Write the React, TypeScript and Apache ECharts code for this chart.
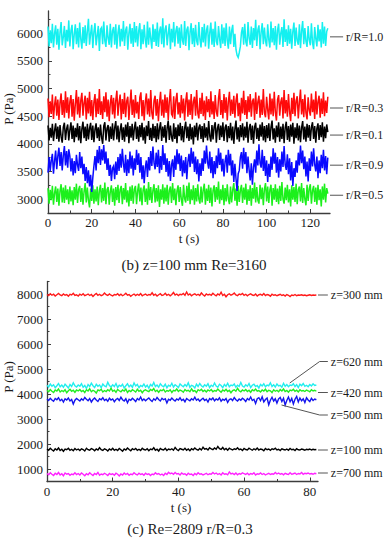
import React, { useEffect, useRef } from 'react';
import * as echarts from 'echarts';

const FONT = 'Liberation Serif, Times New Roman, serif';
const INK = '#1a1a1a';
const AXIS = '#3c3c3c';

// ---- Panel (b): z = 100 mm, Re = 3160, sampled every 0.5 s (0 ... 128 s) ----
const STEP_B = 0.5;

// r/R = 1.0
const pressureB10 = [
  6120, 5760, 6050, 5820, 6170, 5740, 5990, 6140, 5790, 6080, 5700, 6010, 6200, 5780, 5930, 6130, 5730, 6060, 5850, 6230,
  5760, 6040, 6150, 5710, 5980, 6160, 5800, 6090, 5740, 6190, 5890, 5720, 6110, 5820, 6140, 5770, 6030, 6260, 5790, 5990,
  6150, 5730, 6020, 6180, 5780, 5950, 6130, 5680, 6070, 6100, 5800, 6210, 5860, 5750, 6140, 5910, 5790, 6170, 5740, 6040,
  6110, 5790, 6160, 5720, 6000, 6150, 5760, 6080, 5850, 6220, 5770, 6050, 6120, 5700, 5990, 6170, 5810, 6090, 5750, 6200,
  5830, 6130, 5760, 6040, 6180, 5710, 6070, 5800, 6150, 5880, 5740, 6210, 5790, 6100, 5900, 5720, 6160, 5840, 6080, 5770,
  6190, 5750, 6030, 6120, 5800, 6270, 5740, 6060, 6140, 5780, 5990, 6170, 5710, 6080, 5830, 6200, 5760, 6040, 6130, 5810,
  6100, 5730, 6160, 5870, 5790, 6220, 5770, 6060, 6120, 5690, 6020, 6180, 5800, 6090, 5750, 6150, 5860, 5780, 6200, 5890,
  5740, 6110, 5830, 6170, 5760, 6050, 6140, 5720, 6010, 6190, 5790, 6080, 5750, 6210, 5850, 5780, 6130, 5900, 5730, 6160,
  5810, 6100, 5770, 6180, 5870, 5720, 6120, 5800, 6040, 6150, 5750, 5990, 5700, 5600, 5560, 5650, 5760, 6010, 6110, 5790,
  6170, 5840, 5760, 6200, 5910, 5790, 6120, 5730, 6090, 5870, 6240, 5770, 6060, 6140, 5710, 6020, 6180, 5800, 6100, 5860,
  5760, 6160, 5880, 5740, 6210, 5830, 6090, 5780, 6130, 5700, 6050, 6170, 5790, 6000, 6110, 5750, 6250, 5840, 6070, 5770,
  6140, 5810, 6080, 5720, 6030, 6190, 5770, 6100, 5860, 5790, 6160, 5730, 6040, 6220, 5800, 6090, 5850, 5750, 6130, 5880,
  5780, 6180, 5830, 5710, 6110, 5900, 5760, 6150, 5850, 6070, 5740, 6200, 5810, 6120, 5770, 6030, 6090,
];

// r/R = 0.3
const pressureB03 = [
  4820, 4480, 4770, 4540, 4890, 4450, 4700, 4860, 4510, 4800, 4430, 4740, 4910, 4520, 4790, 4470, 4950, 4560, 4840, 4460,
  4760, 4880, 4490, 4810, 4420, 4720, 4970, 4530, 4850, 4470, 4780, 4920, 4510, 4740, 4870, 4440, 4830, 4550, 4940, 4500,
  4790, 4430, 4750, 4900, 4480, 4820, 4540, 4990, 4520, 4770, 4450, 4860, 4570, 4930, 4490, 4800, 4410, 4740, 4880, 4530,
  4830, 4460, 4780, 4960, 4510, 4740, 4890, 4440, 4810, 4540, 4920, 4480, 4770, 4850, 4430, 4720, 4980, 4520, 4800, 4470,
  4880, 4550, 4760, 4450, 4840, 4930, 4500, 4790, 4420, 4750, 4910, 4530, 4820, 4490, 4970, 4560, 4440, 4780, 4870, 4510,
  4810, 4410, 4740, 4940, 4510, 4800, 4470, 4890, 4560, 4840, 4430, 4770, 4990, 4540, 4500, 4860, 4450, 4790, 4920, 4530,
  4750, 4470, 4880, 4550, 4820, 4420, 4770, 4930, 4490, 4800, 4520, 4900, 4440, 4760, 4850, 4510, 4970, 4560, 4460, 4830,
  4540, 4920, 4500, 4780, 4430, 4860, 4570, 4810, 4480, 4950, 4530, 4770, 4450, 4880, 4580, 4490, 4820, 4990, 4520, 4790,
  4460, 4900, 4560, 4840, 4420, 4760, 4940, 4510, 4800, 4540, 4870, 4470, 4780, 4910, 4500, 4740, 4410, 4830, 4550, 4960,
  4520, 4790, 4450, 4860, 4570, 4900, 4490, 4770, 4820, 4430, 4930, 4540, 4760, 4870, 4470, 4800, 4520, 4990, 4560, 4480,
  4850, 4610, 4440, 4910, 4530, 4820, 4500, 4940, 4570, 4420, 4800, 4880, 4510, 4760, 4840, 4460, 4970, 4550, 4790, 4490,
  4900, 4580, 4410, 4830, 4540, 4920, 4500, 4780, 4860, 4460, 4750, 4980, 4530, 4810, 4480, 4890, 4560, 4440, 4840, 4610,
  4510, 4910, 4570, 4800, 4450, 4950, 4530, 4760, 4870, 4470, 4820, 4540, 4930, 4500, 4780, 4560, 4850,
];

// r/R = 0.1
const pressureB01 = [
  4330, 4060, 4290, 4110, 4360, 4050, 4240, 4370, 4090, 4310, 4040, 4340, 4130, 4020, 4300, 4380, 4070, 4270, 4350, 4060,
  4250, 4390, 4090, 4330, 4030, 4290, 4120, 4370, 4060, 4320, 4010, 4270, 4400, 4100, 4310, 4050, 4360, 4080, 4280, 4380,
  4070, 4330, 4030, 4260, 4370, 4100, 4300, 4050, 4350, 4120, 4000, 4320, 4390, 4060, 4280, 4340, 4040, 4310, 4090, 4370,
  4060, 4290, 4410, 4080, 4330, 4030, 4250, 4370, 4070, 4300, 4040, 4350, 4130, 4390, 4010, 4320, 4110, 4360, 4060, 4280,
  4400, 4090, 4310, 4040, 4340, 4120, 4380, 4060, 4300, 4000, 4330, 4140, 4410, 4070, 4290, 4050, 4360, 4100, 4320, 4030,
  4370, 4080, 4280, 4390, 4050, 4310, 4110, 4340, 4020, 4290, 4420, 4070, 4330, 4120, 4040, 4370, 4090, 4300, 4010, 4350,
  4140, 4380, 4060, 4320, 4030, 4280, 4400, 4100, 4310, 4050, 4360, 4080, 4300, 3990, 4330, 4120, 4380, 4060, 4290, 4350,
  4090, 4320, 4030, 4370, 4110, 4300, 4060, 4410, 4140, 4040, 4340, 4080, 4310, 4390, 4020, 4280, 4360, 4070, 4330, 4120,
  4390, 4050, 4290, 4350, 4030, 4320, 4100, 4380, 4060, 4310, 4000, 4270, 4420, 4080, 4300, 4040, 4340, 4120, 4370, 4060,
  4310, 4110, 4400, 4020, 4280, 4360, 4070, 4330, 4000, 4300, 4380, 4090, 4290, 4050, 4350, 4130, 4390, 4060, 4320, 4030,
  4340, 4100, 4370, 4050, 4300, 4420, 4080, 4280, 4020, 4330, 4120, 4390, 4040, 4310, 4090, 4360, 4010, 4290, 4400, 4070,
  4320, 4040, 4350, 4130, 4380, 4000, 4300, 4100, 4370, 4060, 4330, 4030, 4290, 4410, 4080, 4310, 4040, 4360, 4110, 4340,
  4050, 4300, 4390, 4090, 4320, 4020, 4280, 4370, 4070, 4340, 4120, 4390, 4040, 4310, 4100, 4350, 4210,
];

// r/R = 0.9
const pressureB09 = [
  3480, 3760, 3510, 3700, 3820, 3460, 3690, 3880, 3540, 3780, 3930, 3600, 3850, 3520, 3790, 3960, 3610, 3870, 3570, 3900,
  3780, 3500, 3740, 3430, 3690, 3470, 3800, 3620, 3510, 3850, 3560, 3770, 3450, 3640, 3330, 3580, 3290, 3520, 3230, 3440,
  3130, 3390, 3600, 3780, 3520, 3890, 3650, 3960, 3620, 3900, 3700, 3980, 3640, 3860, 3530, 3740, 3420, 3620, 3330, 3560,
  3600, 3360, 3680, 3440, 3760, 3510, 3820, 3570, 3910, 3640, 3480, 3800, 3420, 3720, 3470, 3860, 3550, 3790, 3430, 3740,
  3530, 3890, 3620, 3830, 3480, 3760, 3360, 3610, 3290, 3570, 3700, 3400, 3760, 3520, 3870, 3600, 3950, 3660, 3540, 3840,
  3580, 3890, 3470, 3780, 3530, 3980, 3620, 3830, 3490, 3740, 3410, 3690, 3330, 3620, 3720, 3400, 3790, 3530, 3900, 3630,
  3830, 3510, 3790, 3410, 3700, 3470, 3760, 3360, 3680, 3820, 3580, 3930, 3640, 3860, 3490, 3770, 3450, 3720, 3320, 3650,
  3420, 3740, 3510, 3880, 3640, 3970, 3670, 3550, 3860, 3470, 3760, 3380, 3690, 3450, 3790, 3560, 3920, 3620, 3840, 3500,
  3730, 3410, 3680, 3800, 3480, 3890, 3610, 3820, 3430, 3700, 3310, 3640, 3370, 3150, 3460, 3520, 3760, 3850, 3550, 3930,
  3630, 3850, 3470, 3770, 3530, 3340, 3650, 3260, 3580, 3720, 3480, 3880, 3610, 3990, 3650, 3570, 3890, 3510, 3780, 3420,
  3700, 3310, 3640, 3400, 3770, 3530, 3920, 3640, 3840, 3480, 3760, 3390, 3720, 3500, 3860, 3580, 3960, 3620, 3530, 3810,
  3450, 3740, 3340, 3670, 3240, 3560, 3400, 3700, 3480, 3840, 3610, 3970, 3650, 3880, 3540, 3770, 3410, 3680, 3320, 3740,
  3510, 3860, 3590, 3920, 3630, 3500, 3770, 3380, 3700, 3470, 3800, 3560, 3890, 3520, 3780, 3450, 3750,
];

// r/R = 0.5
const pressureB05 = [
  3200, 2920, 3170, 2980, 3240, 2900, 3110, 3230, 2950, 3190, 2880, 3150, 3270, 2940, 3210, 2930, 3250, 2990, 3180, 2910,
  3230, 2960, 3160, 2890, 3220, 2990, 3280, 2930, 3170, 3240, 2950, 3200, 2900, 3140, 3290, 2940, 3210, 2980, 2850, 3190,
  2970, 3250, 2920, 3180, 2960, 3230, 2890, 3150, 3260, 2940, 3200, 2970, 3300, 2910, 3170, 3220, 2900, 3140, 3250, 2950,
  3190, 2880, 3220, 2980, 3260, 2930, 3170, 3240, 2910, 3200, 2990, 3290, 2940, 3160, 2870, 3230, 2970, 3250, 2920, 3180,
  3240, 2910, 3150, 3280, 2960, 3210, 2890, 3170, 3250, 2950, 3190, 2900, 3310, 2980, 3220, 2930, 3160, 3270, 2940, 3200,
  2960, 3250, 2860, 3180, 2990, 3270, 2920, 3210, 2960, 3260, 2900, 3160, 3230, 2930, 3290, 2980, 3190, 2890, 3150, 3250,
  2950, 3220, 2990, 2880, 3260, 3010, 2940, 3240, 2970, 3300, 2910, 3180, 2980, 3250, 2900, 3200, 2960, 3270, 3000, 2920,
  3230, 2940, 3170, 3280, 2900, 3190, 2970, 3260, 2930, 3210, 2870, 3160, 3250, 2950, 3220, 2990, 3320, 2920, 3180, 2980,
  3260, 2890, 3200, 2960, 3270, 3000, 2910, 3230, 2940, 3170, 3290, 2970, 3190, 2880, 3240, 2950, 3160, 3260, 2930, 3210,
  2990, 3280, 2900, 3180, 2970, 3250, 2880, 3200, 3010, 3300, 2940, 3220, 2980, 2920, 3260, 3000, 3210, 2890, 3180, 3290,
  2960, 3230, 2930, 3170, 3260, 2880, 3200, 2990, 3270, 2950, 3190, 2910, 3240, 2970, 3310, 3000, 2920, 3210, 2980, 3260,
  2940, 3180, 2870, 3250, 2990, 3220, 2950, 3280, 2910, 3170, 3230, 2960, 3290, 2930, 3200, 3000, 2890, 3260, 2970, 3190,
  3270, 2920, 3160, 3240, 2950, 3210, 2900, 3260, 2980, 3180, 2870, 3230, 2990, 3280, 2940, 3200, 3100,
];

// ---- Panel (c): Re = 2809, r/R = 0.3, sampled every 0.5 s (0 ... 82 s) ----
const STEP_C = 0.5;

// z = 300 mm
const pressureC300 = [
  7980, 7940, 8010, 7950, 7990, 7920, 7970, 8020, 7960, 7930, 8000, 7950, 7980, 7910, 7990, 7960, 8030, 7940, 7970, 7920,
  7990, 7950, 8010, 7930, 7960, 8000, 7940, 7980, 7900, 7970, 8020, 7950, 7990, 7930, 7960, 8040, 7970, 7940, 8000, 7950,
  7920, 7980, 7960, 8010, 7940, 7990, 7930, 7970, 8030, 7950, 7980, 7910, 7960, 8000, 7940, 7990, 7950, 8020, 7930, 7970,
  8000, 7940, 7980, 7960, 8050, 7950, 7990, 7920, 7970, 8010, 7940, 7960, 8030, 7950, 7990, 7930, 7980, 8060, 7960, 8000,
  7940, 7990, 7970, 8020, 7950, 8080, 7960, 8000, 7930, 7980, 8010, 7950, 7990, 7940, 8040, 7970, 7920, 8000, 7960, 7990,
  7950, 8030, 7970, 7930, 8000, 7960, 8070, 7940, 7990, 7890, 7970, 8010, 7950, 7980, 8040, 7960, 7930, 8000, 7970, 8020,
  7950, 7990, 7930, 7980, 8010, 7960, 7940, 8000, 7920, 7970, 7990, 7950, 8020, 7940, 7980, 7960, 7910, 7990, 7950, 7970,
  7930, 7960, 7990, 7940, 7970, 7920, 7980, 7950, 7900, 7960, 7940, 7980, 7930, 7960, 7950, 7970, 7940, 7960, 7930, 7950,
  7970, 7940, 7960, 7950, 7960,
];

// z = 620 mm
const pressureC620 = [
  4350, 4280, 4400, 4310, 4370, 4250, 4330, 4420, 4290, 4360, 4270, 4390, 4320, 4240, 4380, 4300, 4450, 4330, 4280, 4360,
  4310, 4410, 4270, 4340, 4220, 4380, 4300, 4430, 4330, 4260, 4390, 4310, 4360, 4250, 4400, 4320, 4290, 4470, 4340, 4280,
  4370, 4300, 4420, 4260, 4350, 4310, 4390, 4240, 4330, 4410, 4290, 4360, 4270, 4440, 4320, 4380, 4250, 4340, 4300, 4400,
  4280, 4350, 4230, 4380, 4320, 4460, 4300, 4360, 4270, 4410, 4330, 4290, 4390, 4250, 4350, 4310, 4430, 4280, 4370, 4320,
  4260, 4400, 4340, 4290, 4380, 4310, 4450, 4270, 4350, 4320, 4240, 4390, 4300, 4420, 4330, 4280, 4370, 4310, 4410, 4260,
  4350, 4300, 4440, 4320, 4270, 4390, 4340, 4250, 4380, 4310, 4430, 4290, 4360, 4330, 4400, 4270, 4350, 4300, 4460, 4320,
  4280, 4370, 4310, 4420, 4260, 4350, 4390, 4300, 4340, 4240, 4380, 4320, 4410, 4290, 4360, 4330, 4450, 4300, 4370, 4280,
  4400, 4320, 4350, 4270, 4430, 4310, 4380, 4290, 4360, 4340, 4410, 4300, 4370, 4260, 4390, 4330, 4420, 4310, 4350, 4290,
  4380, 4320, 4410, 4340, 4360,
];

// z = 420 mm
const pressureC420 = [
  4150, 4090, 4180, 4110, 4060, 4160, 4120, 4200, 4080, 4140, 4100, 4170, 4050, 4130, 4190, 4110, 4150, 4070, 4160, 4120,
  4180, 4100, 4140, 4060, 4170, 4120, 4210, 4090, 4150, 4110, 4040, 4160, 4130, 4190, 4080, 4140, 4100, 4170, 4120, 4230,
  4110, 4150, 4070, 4180, 4130, 4090, 4160, 4120, 4200, 4060, 4140, 4100, 4170, 4130, 4080, 4190, 4110, 4150, 4050, 4140,
  4170, 4120, 4090, 4180, 4140, 4220, 4100, 4150, 4070, 4160, 4130, 4190, 4080, 4140, 4110, 4170, 4060, 4150, 4120, 4200,
  4100, 4160, 4130, 4070, 4180, 4120, 4150, 4090, 4210, 4110, 4140, 4060, 4170, 4130, 4190, 4100, 4150, 4080, 4160, 4120,
  4180, 4090, 4140, 4110, 4200, 4130, 4070, 4160, 4120, 4190, 4100, 4150, 4050, 4140, 4170, 4110, 4230, 4130, 4090, 4160,
  4120, 4180, 4100, 4150, 4070, 4170, 4130, 4200, 4110, 4140, 4080, 4160, 4120, 4190, 4090, 4150, 4130, 4060, 4170, 4110,
  4150, 4090, 4180, 4120, 4200, 4100, 4140, 4070, 4160, 4130, 4190, 4110, 4150, 4080, 4170, 4120, 4140, 4100, 4160, 4130,
  4090, 4170, 4120, 4150, 4110,
];

// z = 500 mm
const pressureC500 = [
  3800, 3740, 3830, 3760, 3710, 3820, 3770, 3850, 3730, 3790, 3680, 3810, 3760, 3840, 3720, 3780, 3600, 3750, 3820, 3770,
  3720, 3810, 3750, 3860, 3790, 3730, 3820, 3680, 3780, 3840, 3760, 3700, 3810, 3770, 3850, 3740, 3790, 3710, 3830, 3760,
  3800, 3690, 3780, 3820, 3740, 3870, 3770, 3720, 3810, 3650, 3790, 3750, 3830, 3770, 3700, 3820, 3760, 3880, 3740, 3800,
  3730, 3790, 3840, 3760, 3700, 3810, 3750, 3860, 3780, 3720, 3830, 3770, 3810, 3640, 3790, 3750, 3840, 3770, 3720, 3800,
  3760, 3850, 3740, 3790, 3690, 3820, 3770, 3730, 3810, 3760, 3870, 3750, 3800, 3710, 3780, 3830, 3740, 3790, 3680, 3820,
  3770, 3840, 3730, 3800, 3760, 3850, 3710, 3790, 3750, 3820, 3660, 3780, 3810, 3740, 3860, 3770, 3720, 3800, 3750, 3830,
  3780, 3700, 3820, 3760, 3880, 3740, 3790, 3620, 3810, 3850, 3730, 3890, 3680, 3780, 3840, 3570, 3750, 3870, 3720, 3810,
  3640, 3800, 3860, 3700, 3830, 3560, 3740, 3880, 3690, 3820, 3600, 3790, 3900, 3680, 3840, 3730, 3810, 3660, 3850, 3760,
  3700, 3830, 3740, 3800, 3770,
];

// z = 100 mm
const pressureC100 = [
  1800, 1750, 1830, 1770, 1720, 1810, 1760, 1840, 1740, 1790, 1710, 1800, 1770, 1830, 1750, 1790, 1730, 1820, 1760, 1800,
  1740, 1810, 1780, 1720, 1830, 1770, 1750, 1820, 1790, 1730, 1800, 1760, 1850, 1770, 1740, 1810, 1780, 1720, 1800, 1760,
  1830, 1750, 1790, 1740, 1820, 1770, 1710, 1800, 1760, 1840, 1780, 1730, 1810, 1770, 1820, 1750, 1790, 1740, 1830, 1780,
  1760, 1810, 1730, 1800, 1770, 1850, 1750, 1790, 1720, 1820, 1780, 1760, 1830, 1740, 1800, 1770, 1810, 1750, 1860, 1780,
  1740, 1820, 1790, 1760, 1830, 1750, 1800, 1730, 1810, 1770, 1840, 1780, 1750, 1820, 1760, 1870, 1790, 1820, 1760, 1850,
  1800, 1770, 1840, 1790, 1900, 1810, 1780, 1860, 1770, 1820, 1750, 1830, 1790, 1760, 1810, 1780, 1850, 1770, 1800, 1740,
  1820, 1780, 1760, 1830, 1790, 1750, 1810, 1770, 1840, 1760, 1800, 1780, 1730, 1820, 1770, 1800, 1750, 1810, 1780, 1830,
  1760, 1790, 1740, 1810, 1780, 1760, 1800, 1750, 1820, 1770, 1790, 1740, 1810, 1770, 1760, 1800, 1780, 1750, 1790, 1770,
  1800, 1760, 1790, 1770, 1780,
];

// z = 700 mm
const pressureC700 = [
  820, 770, 850, 790, 740, 830, 780, 860, 760, 810, 730, 840, 790, 820, 750, 800, 770, 850, 780, 820,
  760, 840, 790, 730, 810, 770, 850, 790, 740, 820, 780, 860, 750, 800, 770, 830, 790, 740, 820, 780,
  810, 750, 830, 790, 720, 800, 760, 840, 780, 820, 750, 800, 770, 850, 790, 760, 830, 780, 810, 750,
  830, 780, 810, 740, 800, 770, 850, 790, 820, 760, 800, 740, 830, 780, 870, 810, 840, 790, 860, 800,
  820, 760, 840, 790, 810, 750, 830, 780, 800, 740, 820, 770, 850, 790, 810, 760, 790, 830, 770, 810,
  790, 860, 800, 840, 780, 820, 760, 850, 790, 810, 770, 880, 800, 830, 780, 840, 770, 820, 790, 850,
  810, 780, 830, 770, 820, 790, 850, 760, 810, 790, 840, 780, 820, 760, 800, 830, 780, 810, 790, 860,
  800, 840, 790, 820, 770, 830, 800, 780, 850, 790, 810, 840, 780, 820, 800, 860, 790, 830, 810, 840,
  800, 820, 790, 830, 810,
];

// ---- Axis ranges and ticks ----
const rangeBX = [0, 129];
const rangeBY = [2750, 6400];
const rangeCX = [0, 82.5];
const rangeCY = [500, 8500];
const ticksBX = [0, 20, 40, 60, 80, 100, 120];
const minorBX = [10, 30, 50, 70, 90, 110];
const ticksBY = [3000, 3500, 4000, 4500, 5000, 5500, 6000];
const minorBY = [3250, 3750, 4250, 4750, 5250, 5750, 6250];
const ticksCX = [0, 20, 40, 60, 80];
const minorCX = [10, 30, 50, 70];
const ticksCY = [1000, 2000, 3000, 4000, 5000, 6000, 7000, 8000];
const minorCY = [1500, 2500, 3500, 4500, 5500, 6500, 7500, 8500];

// ---- Curve labels with leader lines (data units: [t, P]) ----
const labelsB = ['r/R=1.0', 'r/R=0.3', 'r/R=0.1', 'r/R=0.9', 'r/R=0.5'];
const leadersB = [
  [[129, 5933], [135, 5933]],
  [[129, 4647], [135, 4647]],
  [[129, 4158], [135, 4158]],
  [[129, 3614], [135, 3614]],
  [[129, 3071], [135, 3071]],
];
const labelsC = ['z=300 mm', 'z=620 mm', 'z=420 mm', 'z=500 mm', 'z=100 mm', 'z=700 mm'];
const leadersC = [
  [[82.5, 7960], [85.5, 7960]],
  [[73.9, 4440], [83.0, 5300], [85.5, 5300]],
  [[82.5, 4060], [85.5, 4060]],
  [[71.4, 3560], [83.0, 3160], [85.5, 3160]],
  [[82.5, 1760], [85.5, 1760]],
  [[82.5, 840], [85.5, 840]],
];

const toPoints = (values: number[], step: number) => values.map((v, i) => [i * step, v]);

function valueAxis(gridIndex: number, position: string, range: number[], ticks: number[], length: number, line: boolean) {
  return {
    type: 'value', gridIndex, position, min: range[0], max: range[1],
    axisLine: line ? { show: true, onZero: false, lineStyle: { color: AXIS, width: 1.3 } } : { show: false },
    axisTick: { show: true, inside: true, length, customValues: ticks, lineStyle: { color: AXIS } },
    axisLabel: { show: false },
    splitLine: { show: false },
  };
}

function trace(values: number[], step: number, color: string, axis: number, width: number, z: number) {
  return {
    type: 'line',
    xAxisIndex: axis, yAxisIndex: axis,
    data: toPoints(values, step),
    showSymbol: false, symbol: 'none', silent: true, z,
    lineStyle: { color, width, join: 'miter' },
    itemStyle: { color },
  };
}

function textEl(text: string, x: number, y: number, size: number, align: string, vAlign: string, rotation = 0) {
  return {
    type: 'text', x, y, rotation, silent: true,
    style: {
      text, fontFamily: FONT, fontSize: size, fill: INK,
      align, verticalAlign: vAlign, textAlign: align, textVerticalAlign: vAlign,
    },
  };
}

// Tick labels placed through the axis scale of one panel.
function tickLabelSeries(axis: number, xTicks: number[], yTicks: number[], xr: number[], yr: number[], yMargin: number) {
  const items = [...xTicks.map((v) => [v, yr[0]]), ...yTicks.map((v) => [xr[0], v])];
  return {
    type: 'custom',
    xAxisIndex: axis, yAxisIndex: axis,
    silent: true, clip: false, z: 10,
    data: items,
    renderItem: (params: any, api: any) => {
      const i = params.dataIndex;
      const p = items[i];
      const c = api.coord(p);
      if (i < xTicks.length) return textEl(String(p[0]), c[0], c[1] + 3, 13, 'center', 'top');
      return textEl(String(p[1]), c[0] - yMargin, c[1], 13, 'right', 'middle');
    },
  };
}

function leaderSeries(axis: number, labels: string[], leaders: number[][][]) {
  return {
    type: 'custom',
    xAxisIndex: axis, yAxisIndex: axis,
    silent: true, clip: false, z: 10,
    data: leaders.map((l) => l[l.length - 1]),
    renderItem: (params: any, api: any) => {
      const i = params.dataIndex;
      const pts = leaders[i].map((p) => api.coord(p));
      const end = pts[pts.length - 1];
      return {
        type: 'group',
        children: [
          { type: 'polyline', shape: { points: pts }, style: { stroke: '#555', lineWidth: 1, fill: null } },
          textEl(labels[i], end[0] + 3, end[1], 12, 'left', 'middle'),
        ],
      };
    },
  };
}

export default function App() {
  const ref = useRef<HTMLDivElement>(null);

  useEffect(() => {
    if (!ref.current) return;
    const chart = echarts.init(ref.current, null, { renderer: 'svg' });
    chart.setOption({
      animation: false,
      backgroundColor: '#ffffff',
      textStyle: { fontFamily: FONT, color: INK },
      grid: [
        { left: 48, top: 11, width: 282, height: 202, containLabel: false },
        { left: 47, top: 281.5, width: 271, height: 200, containLabel: false },
      ],
      xAxis: [
        valueAxis(0, 'bottom', rangeBX, ticksBX, 4, true),
        valueAxis(1, 'bottom', rangeCX, ticksCX, 4, true),
        valueAxis(0, 'bottom', rangeBX, minorBX, 2.5, false),
        valueAxis(1, 'bottom', rangeCX, minorCX, 2.5, false),
      ],
      yAxis: [
        valueAxis(0, 'left', rangeBY, ticksBY, 4, true),
        valueAxis(1, 'left', rangeCY, ticksCY, 4, true),
        valueAxis(0, 'left', rangeBY, minorBY, 2.5, false),
        valueAxis(1, 'left', rangeCY, minorCY, 2.5, false),
      ],
      series: [
        trace(pressureB05, STEP_B, '#1cf01c', 0, 1.5, 2),
        trace(pressureB01, STEP_B, '#000000', 0, 1.5, 2),
        trace(pressureB03, STEP_B, '#ff0a0a', 0, 1.5, 2),
        trace(pressureB10, STEP_B, '#14f0f0', 0, 1.5, 2),
        trace(pressureB09, STEP_B, '#0a0aff', 0, 1.5, 3),
        leaderSeries(0, labelsB, leadersB),
        tickLabelSeries(0, ticksBX, ticksBY, rangeBX, rangeBY, 5),

        trace(pressureC300, STEP_C, '#ff1a1a', 1, 1.4, 2),
        trace(pressureC620, STEP_C, '#22eeee', 1, 1.4, 2),
        trace(pressureC420, STEP_C, '#22ee22', 1, 1.4, 2),
        trace(pressureC500, STEP_C, '#1414ee', 1, 1.4, 3),
        trace(pressureC100, STEP_C, '#000000', 1, 1.4, 2),
        trace(pressureC700, STEP_C, '#ff22ff', 1, 1.4, 2),
        leaderSeries(1, labelsC, leadersC),
        tickLabelSeries(1, ticksCX, ticksCY, rangeCX, rangeCY, 4),
      ],
      graphic: [
        textEl('t (s)', 189, 238, 13, 'center', 'middle'),
        textEl('P (Pa)', 8, 109, 13, 'center', 'middle', Math.PI / 2),
        textEl('(b) z=100 mm Re=3160', 194, 265, 15, 'center', 'middle'),
        textEl('t (s)', 181, 507, 13, 'center', 'middle'),
        textEl('P (Pa)', 8, 377, 13, 'center', 'middle', Math.PI / 2),
        textEl('(c) Re=2809 r/R=0.3', 190, 529, 15, 'center', 'middle'),
      ],
    });
    return () => chart.dispose();
  }, []);

  return (
    <div
      ref={ref}
      style={{ position: 'fixed', left: 0, top: 0, width: 390, height: 539, background: '#fff' }}
    />
  );
}
